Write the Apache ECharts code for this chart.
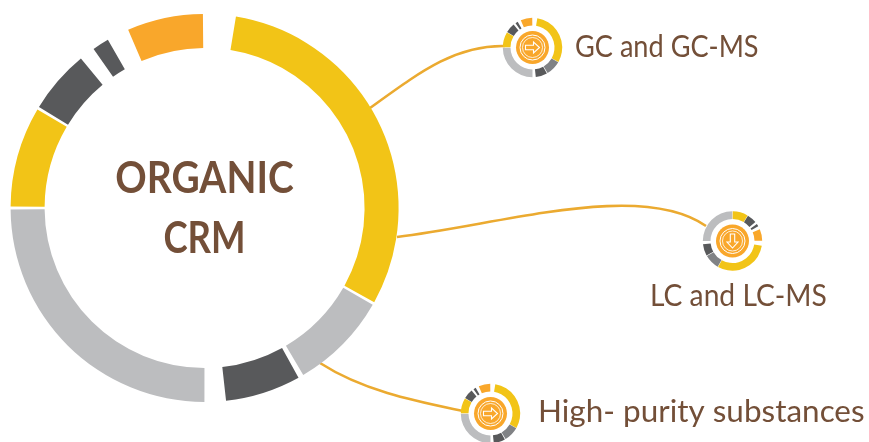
<!DOCTYPE html>
<html>
<head>
<meta charset="utf-8">
<style>html,body{margin:0;padding:0;background:#fff}#c{width:869px;height:442px}</style>
<script src="https://cdn.jsdelivr.net/npm/echarts@6/dist/echarts.min.js"></script>
</head>
<body>
<div id="c"></div>
<script>
// Arc lengths in degrees, clockwise from the top of each ring; 'gap' entries are blank.
var segmentValues = [9.3, 109.7, 0.9, 29.5, 1.6, 22.6, 6.4, 89.5, 0.9, 30, 0.9, 19, 4.7, 5, 6.7, 22.7, 0.5];
var segmentKinds  = ['gap','yellow','gap','gray','gap','dark','gap','light','gap','yellow','gap','dark','gap','dark','gap','orange','gap'];
var mainRingKinds = {yellow:'#F2C417', gray:'#BCBDBF', dark:'#58595B', light:'#BCBDBF', orange:'#F9A72B'};
var miniRingKinds = {yellow:'#F2C417', gray:'#808285', dark:'#58595B', light:'#BCBDBF', orange:'#F9A72B'};
var labels = ['GC and GC-MS', 'LC and LC-MS', 'High- purity substances'];
var titleLines = ['ORGANIC', 'CRM'];

var brown = '#734F38', lineColor = '#EBAA30', discColor = '#F9A72B';

function ring(center, radius, startAngle, palette) {
  return {
    type: 'pie', center: center, radius: radius, startAngle: startAngle, clockwise: true,
    silent: true, animation: false, label: {show: false}, labelLine: {show: false},
    emphasis: {disabled: true},
    data: segmentValues.map(function (v, i) {
      var k = segmentKinds[i];
      return {value: v, name: k + i, itemStyle: {color: k === 'gap' ? 'rgba(0,0,0,0)' : palette[k]}};
    })
  };
}

function icon(cx, cy, rot) {
  var white = '#FFF';
  var arrow = [[-7,-2.2],[1,-2.2],[1,-5.5],[7,0],[1,5.5],[1,2.2],[-7,2.2]];
  return {
    type: 'group', x: cx, y: cy, rotation: rot, z: 10,
    children: [
      {type:'circle', z:10, shape:{cx:0,cy:0,r:16.5}, style:{fill:discColor}},
      {type:'circle', z:11, shape:{cx:0,cy:0,r:12.5}, style:{fill:'none',stroke:white,lineWidth:1}},
      {type:'circle', z:11, shape:{cx:0,cy:0,r:10}, style:{fill:'none',stroke:white,lineWidth:0.8}},
      {type:'polygon', z:11, shape:{points:arrow}, style:{fill:'none',stroke:white,lineWidth:1.1}}
    ]
  };
}

function curve(x1,y1,cx1,cy1,cx2,cy2,x2,y2) {
  return {type:'bezierCurve', z:0, shape:{x1:x1,y1:y1,cpx1:cx1,cpy1:cy1,cpx2:cx2,cpy2:cy2,x2:x2,y2:y2},
    style:{fill:'none',stroke:lineColor,lineWidth:2.6}};
}

function txt(s, x, y, size, weight, align, sx) {
  return {type:'text', z:12, x:x, y:y, scaleX:sx, style:{text:s, fill:brown, font: weight+' '+size+'px Lato', textAlign:align, textVerticalAlign:'middle'}};
}

var chart = echarts.init(document.getElementById('c'), null, {renderer:'canvas'});
chart.setOption({
  backgroundColor: '#fff',
  animation: false,
  series: [
    ring([204.6,208], [160,194], 90, mainRingKinds),
    ring([532.5,47.5], [22,29.7], 90, miniRingKinds),
    ring([732.5,241], [22,29.7], 0, miniRingKinds),
    ring([490.5,413.5], [22,29.7], 90, miniRingKinds)
  ],
  graphic: {elements: [
    curve(370,108, 420,72, 455,45, 505,46),
    curve(397,237, 500,225, 640,180, 706,226),
    curve(320,363, 365,392, 420,402, 463,411),
    icon(532.5,47.5,0),
    icon(732.5,241,-Math.PI/2),
    icon(490.5,413.5,0),
    txt(titleLines[0], 204.5, 179, 44, 'bold', 'center', 0.885),
    txt(titleLines[1], 204.5, 239, 44, 'bold', 'center', 0.83),
    txt(labels[0], 575, 47, 31, 'normal', 'left', 0.875),
    txt(labels[1], 650, 296, 31, 'normal', 'left', 0.91),
    txt(labels[2], 538, 412, 31, 'normal', 'left', 1.015)
  ]}
});
</script>
</body>
</html>
